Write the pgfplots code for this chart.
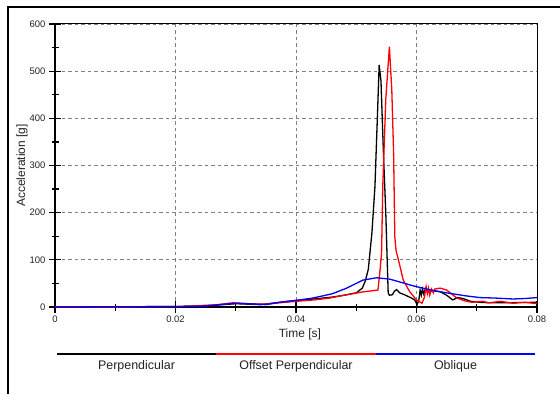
\documentclass[border=0pt]{standalone}
\usepackage{pgfplots}
\pgfplotsset{compat=1.18}
\usepackage{fontspec}
\setmainfont{Liberation Sans}
\definecolor{gridgray}{HTML}{808080}
\definecolor{txt}{HTML}{222222}
\begin{document}
\begin{tikzpicture}[x=1bp,y=1bp]
\useasboundingbox (0,0) rectangle (560,394);
\draw[line width=1.4bp] (8,0) -- (8,387) -- (560,387);
\begin{axis}[
  at={(55bp,87bp)}, anchor=south west,
  scale only axis, width=482bp, height=283bp,
  xmin=0, xmax=0.08, ymin=0, ymax=600,
  scaled x ticks=false,
  xtick={0,0.02,0.04,0.06,0.08},
  xticklabels={0,0.02,0.04,0.06,0.08},
  minor xtick={0.01,0.03,0.05,0.07},
  ytick={0,100,200,300,400,500,600},
  minor ytick={50,150,250,350,450,550},
  /pgf/number format/assume math mode=true,
  ticklabel style={font=\fontsize{9.5}{10}\selectfont, text=txt},
  xticklabel style={yshift=1bp},
  tick align=center,
  major tick length=12bp, minor tick length=7bp,
  tick style={black, line width=1.3bp},
  xtick pos=bottom, ytick pos=left,
  grid=major,
  major grid style={gridgray, dash pattern=on 3.5bp off 3bp, line width=0.7bp},
  axis line style={line width=1bp},
  xlabel={Time [s]}, ylabel={Acceleration [g]},
  label style={font=\fontsize{12}{14}\selectfont, text=txt},
  xlabel style={at={(rel axis cs:0.508,-0.0954)}, anchor=center},
  ylabel style={at={(rel axis cs:-0.0685,0.5)}, anchor=center},
  clip mode=individual,
]
\draw[black, line width=2bp] (rel axis cs:0,1) -- (rel axis cs:0,0) -- (rel axis cs:1,0);
\addplot[black, line width=1.3bp] coordinates {
(0,0) (0.010,0.5) (0.020,1) (0.025,2) (0.028,5) (0.030,7) (0.032,6) (0.034,5)
(0.036,8) (0.038,11) (0.040,14) (0.043,17) (0.046,21) (0.048,25) (0.050,30)
(0.051,40) (0.0515,55) (0.052,80) (0.0526,157) (0.0531,255) (0.0535,400)
(0.0538,513) (0.0541,480) (0.0545,330) (0.0549,200) (0.0551,114) (0.0553,30)
(0.0555,25) (0.0560,26) (0.0563,33) (0.0567,37) (0.0572,30) (0.058,26)
(0.059,20) (0.0597,15) (0.0601,5) (0.0604,15) (0.0606,36) (0.0608,25)
(0.061,38) (0.0612,28) (0.0615,40) (0.062,33) (0.063,34) (0.064,32)
(0.065,25) (0.066,15) (0.0668,20) (0.0677,18) (0.069,12) (0.0705,10)
(0.072,9) (0.075,9) (0.08,10)
};
\addplot[red, line width=1.3bp] coordinates {
(0,0) (0.020,0.5) (0.024,3) (0.027,5) (0.0296,9) (0.032,7) (0.035,6)
(0.0373,9) (0.040,12) (0.043,15) (0.0456,19) (0.048,25) (0.0511,32)
(0.0536,36) (0.0539,72) (0.0542,114) (0.0544,255) (0.0549,440) (0.0555,552)
(0.0559,460) (0.0562,326) (0.0564,149) (0.0566,120) (0.0570,100) (0.0578,57)
(0.0589,32) (0.0600,15) (0.0609,8) (0.0613,20) (0.0616,43) (0.0618,28)
(0.062,40) (0.0622,25) (0.0625,38) (0.0628,30) (0.063,38) (0.0639,40)
(0.065,36) (0.0667,19) (0.068,13) (0.0692,10) (0.071,12) (0.072,9)
(0.074,12) (0.076,8) (0.078,10) (0.08,7)
};
\addplot[blue, line width=1.3bp] coordinates {
(0,0) (0.020,1) (0.025,2) (0.028,6) (0.030,8) (0.032,7) (0.035,5)
(0.0373,10) (0.040,14) (0.0428,19) (0.046,28) (0.0484,40) (0.0511,57)
(0.0534,62) (0.0556,59) (0.0575,52) (0.0594,45) (0.062,37) (0.065,30)
(0.068,24) (0.0705,20) (0.073,19) (0.076,17) (0.078,18) (0.08,20)
};
\end{axis}
\draw[black, line width=1.3bp] (57,40) -- (216,40);
\draw[red, line width=1.3bp] (216,40) -- (376,40);
\draw[blue, line width=1.3bp] (376,40) -- (535,40);
\begin{scope}[every node/.style={font=\fontsize{12.5}{14}\selectfont, text=txt}]
\node at (136.5,27.5) {Perpendicular};
\node at (296,27.5) {Offset Perpendicular};
\node at (455.5,27.5) {Oblique};
\end{scope}
\end{tikzpicture}
\end{document}
